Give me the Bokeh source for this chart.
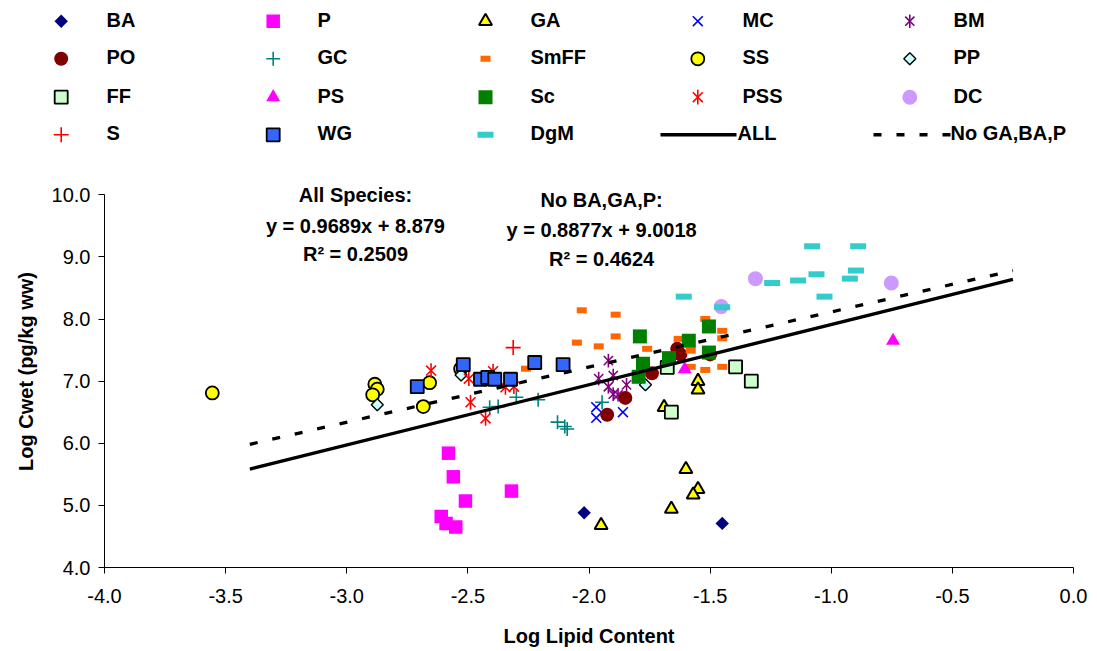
import math
from bokeh.plotting import figure
from bokeh.models import Range1d, Label
from bokeh.core.properties import value
from bokeh.embed import file_html
from bokeh.resources import INLINE

# ---------------- data ----------------
series_order = ["BA", "P", "GA", "MC", "BM",
                "PO", "GC", "SmFF", "SS", "PP",
                "FF", "PS", "Sc", "PSS", "DC",
                "S", "WG", "DgM"]

BA_x = [-2.02, -1.45]
BA_y = [4.88, 4.71]
P_x = [-2.58, -2.56, -2.51, -2.61, -2.59, -2.55, -2.32]
P_y = [5.84, 5.46, 5.07, 4.82, 4.71, 4.65, 5.23]
GA_x = [-1.95, -1.60, -1.55, -1.57, -1.66, -1.55, -1.55, -1.69]
GA_y = [4.68, 5.58, 5.26, 5.17, 4.94, 7.00, 6.86, 6.58]
MC_x = [-1.97, -1.97, -1.86]
MC_y = [6.58, 6.41, 6.50]
BM_x = [-1.92, -1.96, -1.90, -1.92, -1.90, -1.845, -1.88]
BM_y = [7.33, 7.04, 7.09, 6.91, 6.79, 6.94, 6.78]
PO_x = [-1.925, -1.85, -1.74, -1.636, -1.623, -1.50]
PO_y = [6.46, 6.73, 7.125, 7.52, 7.43, 7.43]
GC_x = [-2.41, -2.375, -2.30, -2.21, -2.13, -2.10, -2.09, -1.946]
GC_y = [6.58, 6.59, 6.74, 6.70, 6.34, 6.27, 6.23, 6.66]
SmFF_x = [-2.03, -1.89, -2.05, -1.96, -1.89, -2.26, -1.76, -1.52, -1.45, -1.45,
          -1.63, -1.58, -1.58, -1.52, -1.45]
SmFF_y = [8.14, 8.07, 7.62, 7.56, 7.72, 7.20, 7.52, 8.00, 7.81, 7.69,
          7.68, 7.49, 7.23, 7.18, 7.23]
SS_x = [-3.555, -2.884, -2.874, -2.893, -2.658, -2.684, -2.53]
SS_y = [6.81, 6.95, 6.87, 6.78, 6.975, 6.59, 7.20]
PP_x = [-2.874, -2.528, -1.767]
PP_y = [6.62, 7.10, 6.94]
FF_x = [-1.677, -1.395, -1.33, -1.66]
FF_y = [7.22, 7.23, 7.00, 6.50]
PS_x = [-1.605, -0.745]
PS_y = [7.19, 7.65]
Sc_x = [-1.79, -1.505, -1.588, -1.67, -1.777, -1.505, -1.795]
Sc_y = [7.72, 7.88, 7.65, 7.37, 7.28, 7.46, 7.07]
PSS_x = [-2.652, -2.496, -2.396, -2.489, -2.427, -2.345, -2.31]
PSS_y = [7.17, 7.04, 7.16, 6.66, 6.40, 6.90, 6.91]
DC_x = [-1.313, -1.454, -0.752]
DC_y = [8.65, 8.20, 8.58]
S_x = [-2.313]
S_y = [7.54]
WG_x = [-2.709, -2.519, -2.448, -2.418, -2.389, -2.324, -2.224, -2.107]
WG_y = [6.91, 7.265, 7.03, 7.06, 7.03, 7.03, 7.30, 7.265]
DgM_x = [-1.609, -1.45, -1.244, -1.137, -1.079, -0.889, -1.061, -0.898, -0.923, -1.028]
DgM_y = [8.36, 8.19, 8.58, 8.62, 9.17, 9.17, 8.72, 8.78, 8.65, 8.36]

data = {
    "BA": (BA_x, BA_y), "P": (P_x, P_y), "GA": (GA_x, GA_y), "MC": (MC_x, MC_y),
    "BM": (BM_x, BM_y), "PO": (PO_x, PO_y), "GC": (GC_x, GC_y),
    "SmFF": (SmFF_x, SmFF_y), "SS": (SS_x, SS_y), "PP": (PP_x, PP_y),
    "FF": (FF_x, FF_y), "PS": (PS_x, PS_y), "Sc": (Sc_x, Sc_y),
    "PSS": (PSS_x, PSS_y), "DC": (DC_x, DC_y), "S": (S_x, S_y),
    "WG": (WG_x, WG_y), "DgM": (DgM_x, DgM_y),
}

# trend lines: slope, intercept, x extent
all_slope, all_intercept = 0.9689, 8.879
nogbp_slope, nogbp_intercept = 0.8877, 9.0018
trend_x = [-3.4, -0.25]

x_ticks = [-4.0, -3.5, -3.0, -2.5, -2.0, -1.5, -1.0, -0.5, 0.0]
y_ticks = [4.0, 5.0, 6.0, 7.0, 8.0, 9.0, 10.0]

# ---------------- styles ----------------
ROT = math.pi / 4
STYLE = {
    "BA":   dict(kind="m", marker="square", size=9.5, fill="#000080", line=None, lw=0, angle=ROT),
    "P":    dict(kind="m", marker="square", size=13.5, fill="#FF00FF", line=None, lw=0),
    "GA":   dict(kind="m", marker="triangle", size=13, fill="#FFFF00", line="black", lw=2),
    "MC":   dict(kind="m", marker="x", size=14, fill=None, line="#0000FF", lw=1.6),
    "BM":   dict(kind="star", size=13, line="#800080", lw=1.6),
    "PO":   dict(kind="m", marker="circle", size=14, fill="#800000", line=None, lw=0),
    "GC":   dict(kind="m", marker="cross", size=14, fill=None, line="#008080", lw=1.6),
    "SmFF": dict(kind="r", w=10, h=6, fill="#FF6600"),
    "SS":   dict(kind="m", marker="circle", size=13, fill="#FFFF00", line="black", lw=1.8),
    "PP":   dict(kind="m", marker="square", size=8.5, fill="#CCFFFF", line="black", lw=1.4, angle=ROT),
    "FF":   dict(kind="m", marker="square", size=13, fill="#CCFFCC", line="black", lw=1.8),
    "PS":   dict(kind="m", marker="triangle", size=14, fill="#FF00FF", line=None, lw=0),
    "Sc":   dict(kind="m", marker="square", size=14, fill="#008000", line=None, lw=0),
    "PSS":  dict(kind="star", size=14, line="#FF0000", lw=1.6),
    "DC":   dict(kind="m", marker="circle", size=15, fill="#CC99FF", line=None, lw=0),
    "S":    dict(kind="m", marker="cross", size=15, fill=None, line="#FF0000", lw=1.6),
    "WG":   dict(kind="m", marker="square", size=13, fill="#3366FF", line="black", lw=1.8),
    "DgM":  dict(kind="r", w=16, h=6, fill="#33CCCC"),
}

FONT = "Liberation Sans"


def draw_series(fig, key, xs, ys):
    st = STYLE[key]
    if st["kind"] == "r":
        fig.rect(x=xs, y=ys, width=st["w"], height=st["h"],
                 width_units="screen", height_units="screen",
                 fill_color=st["fill"], line_color=None)
    elif st["kind"] == "star":
        # Excel-style star: an x with a vertical bar through it
        fig.scatter(x=xs, y=ys, marker="x", size=st["size"],
                    line_color=st["line"], line_width=st["lw"])
        fig.scatter(x=xs, y=ys, marker="dash", size=st["size"] * 1.05, angle=math.pi / 2,
                    line_color=st["line"], line_width=st["lw"])
    else:
        fig.scatter(x=xs, y=ys, marker=st["marker"], size=st["size"],
                    fill_color=st["fill"], line_color=st["line"],
                    line_width=st["lw"], angle=st.get("angle", 0.0))


# ---------------- legend figure (separate root, pixel coordinates) ----------------
LEG_H = 175
leg = figure(width=1097, height=LEG_H, x_range=Range1d(0, 1097), y_range=Range1d(LEG_H, 0),
             output_backend="svg", toolbar_location=None,
             x_axis_type=None, y_axis_type=None, min_border=0,
             min_border_left=0, min_border_right=0, min_border_top=0, min_border_bottom=0)
leg.outline_line_color = None
leg.grid.visible = False

col_marker_x = [60.7, 272.7, 485.0, 697.3, 909.3]
col_text_x = [106, 317, 530, 742, 953]
row_y = [20.7, 58.3, 96.7, 134.3]

for i, key in enumerate(series_order):
    r, c = divmod(i, 5)
    draw_series(leg, key, [col_marker_x[c]], [row_y[r]])
    leg.text(x=[col_text_x[c]], y=[row_y[r] - 1.5], text=[key],
             text_font=value(FONT), text_font_style="bold", text_font_size="20px",
             text_baseline="middle", text_align="left", text_color="black")

leg.line(x=[660, 736], y=[row_y[3], row_y[3]], line_color="black", line_width=3.5)
leg.text(x=[737], y=[row_y[3] - 1.5], text=["ALL"], text_font=value(FONT),
         text_font_style="bold", text_font_size="20px", text_baseline="middle",
         text_align="left")
leg.line(x=[873, 950], y=[row_y[3], row_y[3]], line_color="black", line_width=3.5,
         line_dash="8 15")
leg.text(x=[950], y=[row_y[3] - 1.5], text=["No GA,BA,P"], text_font=value(FONT),
         text_font_style="bold", text_font_size="20px", text_baseline="middle",
         text_align="left")

# ---------------- main figure ----------------
p = figure(width=1097, height=651 - LEG_H, x_range=Range1d(-4, 0), y_range=Range1d(4, 10.31),
           output_backend="svg", toolbar_location=None,
           min_border_left=104, min_border_right=24, min_border_top=0, min_border_bottom=84)
p.outline_line_color = None
p.grid.visible = False

for key in series_order:
    xs, ys = data[key]
    draw_series(p, key, xs, ys)

p.line(x=trend_x, y=[all_slope * v + all_intercept for v in trend_x],
       line_color="black", line_width=3.3)
p.line(x=trend_x, y=[nogbp_slope * v + nogbp_intercept for v in trend_x],
       line_color="black", line_width=3.3, line_dash="8 15")

for ax in (p.xaxis[0], p.yaxis[0]):
    ax.minor_tick_line_color = None
    ax.major_tick_in = 0
    ax.major_tick_out = 6
    ax.axis_line_color = "black"
    ax.major_tick_line_color = "black"
    ax.major_label_text_font = FONT
    ax.major_label_text_font_size = "20px"
    ax.major_label_text_color = "black"
    ax.axis_label_text_font = FONT
    ax.axis_label_text_font_size = "20px"
    ax.axis_label_text_font_style = "bold"
    ax.axis_label_text_color = "black"

p.yaxis.bounds = (4, 10)
p.xaxis.ticker = x_ticks
p.yaxis.ticker = y_ticks
p.xaxis.major_label_overrides = {t: f"{t:.1f}" for t in x_ticks}
p.yaxis.major_label_overrides = {t: f"{t:.1f}" for t in y_ticks}
p.xaxis.axis_label = "Log Lipid Content"
p.yaxis.axis_label = "Log Cwet (pg/kg ww)"
p.xaxis.major_label_standoff = 15
p.xaxis.axis_label_standoff = 19
p.yaxis.major_label_standoff = 8
p.yaxis.axis_label_standoff = 12

ann = [
    (-2.964, 9.99, "All Species:"),
    (-2.964, 9.50, "y = 0.9689x + 8.879"),
    (-2.964, 9.05, "R² = 0.2509"),
    (-1.948, 9.91, "No BA,GA,P:"),
    (-1.948, 9.44, "y = 0.8877x + 9.0018"),
    (-1.948, 8.97, "R² = 0.4624"),
]
for ax_, ay_, t in ann:
    p.add_layout(Label(x=ax_, y=ay_, text=t, text_align="center", text_baseline="middle",
                       text_font=FONT, text_font_style="bold", text_font_size="20px",
                       text_color="black"))

open("out.html", "w").write(file_html([leg, p], INLINE))
